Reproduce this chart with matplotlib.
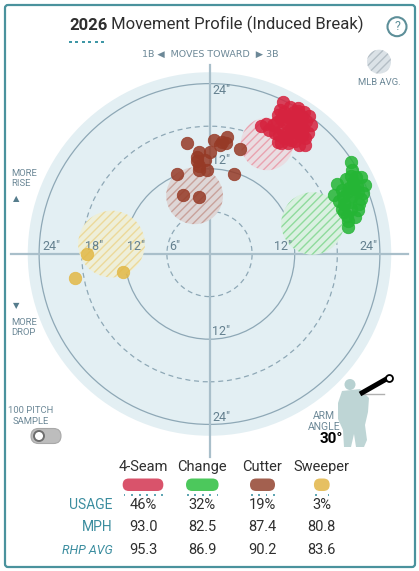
import matplotlib.pyplot as plt
from matplotlib.patches import Circle, FancyBboxPatch, Polygon

plt.rcParams['font.family'] = ['Roboto', 'DejaVu Sans']
plt.rcParams['hatch.linewidth'] = 1.0

# pitch mix table
pitch_names = ["4-Seam", "Change", "Cutter", "Sweeper"]
usage = [46, 32, 19, 3]
mph = [93.0, 82.5, 87.4, 80.8]
rhp_avg = [95.3, 86.9, 90.2, 83.6]
point_colors = ["#d6233f", "#25b535", "#963a26", "#e2b846"]
pill_colors = ["#d9536b", "#4cc85c", "#a3604f", "#e6c062"]
hatch_colors = ["#e9a3b0", "#8fdb9c", "#c9a29b", "#ecd99a"]
hatch_faces = ["#eadde2", "#daf0e1", "#ded6d6", "#eeefd9"]

# 100 pitch sample: horizontal break / induced vertical break (inches)
fourseam_hb = [10.4, 12.4, 10.5, 7.9, 8.9, 7.2, 13.6, 14.3, 13.4, 12.7, 11.5, 10.5,
               9.6, 11.5, 13.4, 12.4, 11.2, 12.0, 13.0, 10.0, 9.5, 10.8, 12.2, 13.1,
               11.8, 10.2, 9.2, 10.9, 12.4, 13.9, 11.0, 12.1, 9.8, 8.4, 11.6, 12.9,
               10.6, 11.9, 13.3, 9.9, 9.6, 14.0, 12.6, 10.0, 11.3, 13.0]
fourseam_ivb = [21.4, 20.2, 20.0, 18.3, 18.1, 18.0, 18.7, 18.2, 16.3, 16.6, 17.7, 16.3,
                15.8, 16.1, 15.4, 20.6, 19.4, 19.0, 19.5, 19.0, 18.6, 18.4, 18.2, 17.6,
                17.2, 17.5, 17.0, 17.0, 17.4, 17.1, 15.6, 15.9, 16.8, 17.4, 18.8, 18.3,
                19.5, 20.0, 20.0, 20.3, 19.6, 19.4, 15.3, 15.6, 20.7, 16.8]
change_hb = [19.9, 20.0, 17.9, 21.4, 21.9, 20.2, 20.9, 19.3, 17.6, 21.3, 19.8, 18.6,
             19.0, 20.5, 19.5, 19.5, 20.6, 19.2, 20.8, 19.6, 18.8, 20.1, 21.0, 19.0,
             19.9, 18.3, 20.3, 19.4, 20.9, 18.6, 21.6, 19.9]
change_ivb = [12.9, 11.8, 9.9, 10.9, 9.7, 10.2, 8.8, 8.8, 8.3, 7.7, 7.3, 6.4,
              5.9, 5.2, 4.7, 3.8, 10.9, 10.5, 9.6, 9.3, 8.0, 8.2, 7.1, 7.0,
              6.4, 7.4, 9.1, 5.3, 6.2, 9.0, 8.6, 11.0]
cutter_hb = [-3.2, 0.6, 1.5, 2.5, 2.3, 1.8, 4.3, 0.1, -1.5, -1.7, -0.6, -1.7,
             -1.5, -0.3, -1.5, -4.6, 3.4, -3.7, -1.5]
cutter_ivb = [15.6, 16.0, 15.4, 16.5, 15.6, 15.8, 14.8, 14.3, 14.3, 13.7, 13.2, 13.1,
              12.4, 11.8, 11.8, 11.2, 11.3, 8.3, 8.0]
sweeper_hb = [-17.3, -18.9, -12.2]
sweeper_ivb = [0.0, -3.4, -2.6]

# MLB average movement for each pitch type (centre and spread, inches)
mlb_hb = [8.1, 14.5, -2.1, -13.8]
mlb_ivb = [15.5, 4.3, 8.2, 1.4]
mlb_r = [3.7, 4.4, 4.0, 4.7]

ring_levels = [6, 12, 18, 24]

W, H = 419, 571
CX, CY, S = 209.5, 254, 7.1   # chart centre (px) and px per inch
fig = plt.figure(figsize=(W / 100, H / 100), dpi=100)

ax = fig.add_axes([0, 0, 1, 1])
ax.set_xlim(-CX / S, (W - CX) / S)
ax.set_ylim(-(H - CY) / S, CY / S)
ax.axis('off')

ring_col = "#8ea8b6"
lab_col = "#64808f"
ax.add_patch(Circle((0, 0), 25.6, fc="#e3eff3", ec="none", zorder=0))
for r in ring_levels:
    ls = "-" if r % 12 == 0 else (0, (4, 3))
    ax.add_patch(Circle((0, 0), r, fill=False, ec=ring_col, lw=0.9, ls=ls, zorder=1))
ax.plot([0, 0], [26.6, -28.6], color="#a9bfca", lw=1.6, zorder=1)
ax.plot([-27.9, 27.95], [0, 0], color="#a9bfca", lw=1.6, zorder=1)

# MLB average hatched circles
for i in range(4):
    ax.add_patch(Circle((mlb_hb[i], mlb_ivb[i]), mlb_r[i], fc=hatch_faces[i],
                        ec=hatch_colors[i], lw=0, hatch="////", zorder=2))

# ring labels
for r in ring_levels:
    ax.text(-r + 0.4, 1.1, f'{r}"', ha="left", va="center", fontsize=9, color=lab_col, zorder=3)
for r in [12, 24]:
    ax.text(r - 0.4, 1.1, f'{r}"', ha="right", va="center", fontsize=9, color=lab_col, zorder=3)
for r, y in [(24, 22.96), (12, 13.2), (-12, -10.9), (-24, -23.0)]:
    ax.text(0.35, y, f'{abs(r)}"', ha="left", va="center", fontsize=9, color=lab_col, zorder=3)

series = [(fourseam_hb, fourseam_ivb), (change_hb, change_ivb),
          (cutter_hb, cutter_ivb), (sweeper_hb, sweeper_ivb)]
for (hb, ivb), c in zip(series, point_colors):
    ax.scatter(hb, ivb, s=80, color=c, alpha=0.85, edgecolors=c, linewidths=0.6, zorder=4)

# overlay in pixel coordinates
ov = fig.add_axes([0, 0, 1, 1], zorder=5)
ov.set_xlim(0, W)
ov.set_ylim(H, 0)
ov.axis('off')
ov.patch.set_alpha(0)

ov.add_patch(FancyBboxPatch((5, 5), 410, 562, boxstyle="round,pad=0,rounding_size=3",
                            fill=False, ec="#4a929d", lw=1.6))

t1 = ov.text(69, 33, "2026", fontsize=12, weight="bold", color="#2f2f2f", ha="left", va="bottom")
ov.annotate(" Movement Profile (Induced Break)", xy=(1, 0), xycoords=t1, ha="left", va="bottom",
            fontsize=12, color="#2f2f2f")
for k in range(6):
    ov.add_patch(plt.Rectangle((69 + k * 6.4, 40.5), 3, 2.6, color="#3f97a6", lw=0))

ov.add_patch(Circle((397, 26.7), 9.5, fill=False, ec="#5d8f99", lw=1.5))
ov.text(397, 27, "?", ha="center", va="center", fontsize=9, color="#5d8f99")

small = dict(fontsize=6.8, color="#6c8897")
ov.text(210, 54.5, "1B \u25C0  MOVES TOWARD  \u25B6 3B", ha="center", va="center",
        family=["DejaVu Sans"], **small)

ov.add_patch(Circle((379, 61.7), 12, fc="#dbe2e7", ec="#b4bec6", lw=0, hatch="////"))
ov.text(379, 82.5, "MLB AVG.", ha="center", va="center", **small)

ov.text(11.5, 178.5, "MORE\nRISE", ha="left", va="center", linespacing=1.2, **small)
ov.text(16.7, 198.3, "\u25B2", ha="center", va="center", fontsize=6, color="#557c8c",
        family=["DejaVu Sans"])
ov.text(16.7, 306, "\u25BC", ha="center", va="center", fontsize=6, color="#557c8c",
        family=["DejaVu Sans"])
ov.text(11.5, 327.5, "MORE\nDROP", ha="left", va="center", linespacing=1.2, **small)

# sample toggle
ov.text(31, 416, "100 PITCH\nSAMPLE", ha="center", va="center", linespacing=1.15, **small)
ov.add_patch(FancyBboxPatch((31, 428.5), 30, 15, boxstyle="round,pad=0,rounding_size=7.5",
                            fc="#bdbdbd", ec="#a8a8a8", lw=0.8))
ov.add_patch(Circle((39, 436), 5, fc="white", ec="#6e6e6e", lw=1.4))

# arm angle figure
body = [(342, 391), (360, 389), (369, 398), (368, 412), (365, 425), (367, 440), (364, 447),
        (356, 447), (354, 434), (351, 447), (344, 447), (343, 430), (338, 419), (338, 403)]
ov.add_patch(Polygon(body, closed=True, fc="#b7d1d1", ec="none", alpha=0.9))
ov.add_patch(Circle((350, 384.5), 5.5, fc="#b7d1d1", ec="none"))
ov.plot([363, 384], [393.5, 393.5], color="#b0b0b0", lw=1)
ov.plot([360, 389], [394, 377.5], color="black", lw=3.6, solid_capstyle="butt")
ov.plot([389], [377.5], marker="o", ms=5, mfc="white", mec="black", mew=1.3)
ov.text(324, 421.5, "ARM\nANGLE", ha="center", va="center", linespacing=1.15,
        fontsize=7.5, color="#6c8897")
ov.text(331, 439, "30\u00b0", ha="center", va="center", fontsize=11, weight="bold", color="black")

# pitch mix table
col_x = [143, 202.3, 262.5, 321.8]
for i, name in enumerate(pitch_names):
    x = col_x[i]
    ov.text(x, 467, name, ha="center", va="center", fontsize=10.5, color="#2f2f2f")
    w = 14 + 0.58 * usage[i]
    ov.add_patch(FancyBboxPatch((x - w / 2, 478.5), w, 12.5,
                                boxstyle="round,pad=0,rounding_size=6.2",
                                fc=pill_colors[i], ec="none"))
    n_dots = max(2, round(w / 6.5))
    for k in range(n_dots):
        dx = x - w / 2 + 1 + k * (w - 3) / max(n_dots - 1, 1)
        ov.add_patch(plt.Rectangle((dx, 494), 1.8, 1.8, color="#5fa6b3", lw=0))
    ov.text(x, 505, f"{usage[i]}%", ha="center", va="center", fontsize=10.5, color="#2f2f2f")
    ov.text(x, 527, f"{mph[i]:.1f}", ha="center", va="center", fontsize=10.5, color="#2f2f2f")
    ov.text(x, 550, f"{rhp_avg[i]:.1f}", ha="center", va="center", fontsize=10.5, color="#2f2f2f")

row_col = "#3b8d9f"
ov.text(112.5, 505, "USAGE", ha="right", va="center", fontsize=10, color=row_col)
ov.text(112.5, 527, "MPH", ha="right", va="center", fontsize=10, color=row_col)
ov.text(112.5, 550, "RHP AVG", ha="right", va="center", fontsize=9, style="italic", color=row_col)

fig.savefig("out.png", dpi=100)
